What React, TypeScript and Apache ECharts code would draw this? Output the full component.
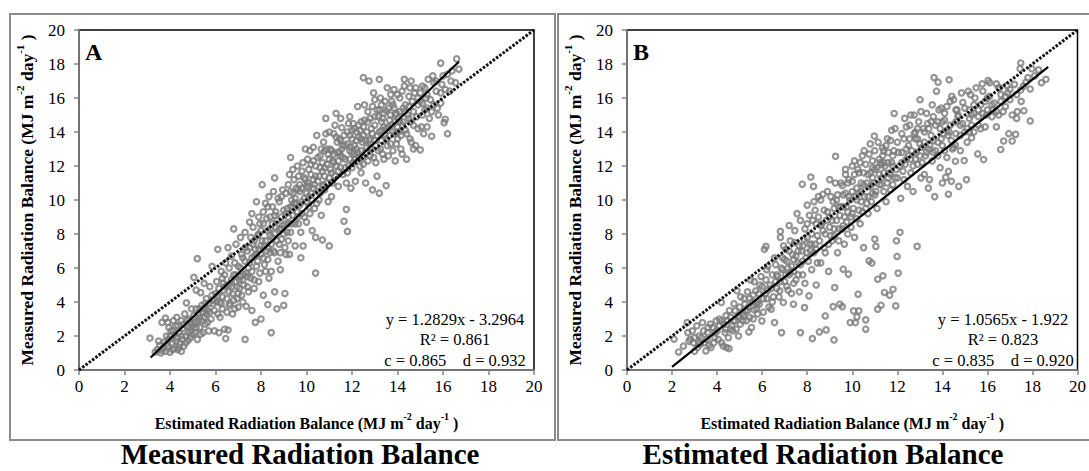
import React, { useEffect, useRef } from "react";
import * as echarts from "echarts";

// ---------- DATA ----------
const ticks = [0, 2, 4, 6, 8, 10, 12, 14, 16, 18, 20];

// Panel A: [estimated, measured]
const pointsA: number[][] = [
  [3.12,1.88],[3.35,1.05],[3.45,1.2],[3.55,1.45],[3.6,1.0],[3.65,2.8],[3.7,1.3],[3.75,1.65],[3.8,1.1],[3.85,2.0],[3.9,2.8],[3.9,1.4],[3.95,1.8],[4.0,1.05],[4.05,2.3],[4.1,1.6],[4.15,2.9],[4.2,1.25],[4.25,2.6],[4.3,3.1],[4.3,1.9],[4.35,1.2],[4.4,2.2],[4.45,1.55],[4.5,2.9],[4.5,1.1],[4.55,2.45],[3.8,3.05],[3.95,2.5],[4.2,2.1],
  [4.6,1.4],[4.65,3.3],[4.7,2.0],[4.72,3.95],[4.75,2.6],[4.8,1.75],[4.85,3.0],[4.9,2.3],[4.95,3.6],[5.0,2.1],[5.05,5.45],[5.1,2.8],[5.15,4.7],[5.2,1.8],[5.2,6.55],[5.25,3.3],[5.3,2.5],[5.35,4.55],[5.4,3.8],[5.45,2.2],[5.5,3.1],[5.5,5.1],[5.55,2.7],[5.6,4.2],[5.65,3.5],[5.7,2.3],[5.75,4.9],[5.8,3.0],[5.85,6.1],[5.9,3.9],[5.95,2.3],[6.0,4.5],[5.3,3.6],[5.6,3.3],[5.05,3.2],[4.85,2.5],[5.4,2.9],
  [6.05,5.2],[6.1,7.1],[6.1,3.3],[6.15,2.2],[6.2,4.0],[6.25,5.8],[6.3,3.6],[6.35,4.7],[6.4,2.4],[6.45,1.85],[6.45,6.3],[6.5,4.2],[6.55,7.2],[6.55,2.35],[6.6,5.0],[6.65,3.9],[6.7,6.7],[6.75,4.5],[6.8,5.6],[6.8,8.3],[6.85,3.6],[6.9,7.4],[6.95,4.9],[7.0,6.1],[7.0,3.7],[7.05,5.3],[7.1,7.8],[7.15,4.4],[7.2,6.6],[7.25,5.0],[7.3,1.8],[7.3,8.1],[7.35,3.75],[7.35,5.7],[7.4,7.0],[7.45,4.6],[7.5,6.3],[7.5,8.7],[6.3,5.4],[6.6,6.0],[6.9,5.2],[7.2,4.0],[6.4,4.9],[7.1,6.0],
  [7.55,5.4],[7.6,9.2],[7.6,3.5],[7.65,7.4],[7.7,4.8],[7.75,2.8],[7.8,6.1],[7.8,9.9],[7.85,7.9],[7.9,5.2],[7.95,8.6],[8.0,3.0],[8.0,6.8],[8.05,10.9],[8.1,4.4],[8.1,9.3],[8.15,7.3],[8.2,5.8],[8.25,8.9],[8.3,3.85],[8.3,6.5],[8.35,10.2],[8.4,7.9],[8.45,2.2],[8.45,5.8],[8.5,9.6],[8.55,7.0],[8.6,11.3],[8.6,4.6],[8.65,8.4],[8.7,3.6],[8.75,6.4],[8.8,9.9],[8.85,5.9],[8.9,7.7],[8.95,10.6],[9.0,3.8],[9.05,4.5],[9.05,8.6],[9.1,6.8],[9.15,9.5],[9.2,10.9],[9.2,7.6],[7.7,6.7],[8.0,8.2],[8.3,9.6],[8.6,8.0],[8.9,9.0],[7.9,7.1],[8.4,6.9],
  [9.25,6.8],[9.3,12.5],[9.3,8.1],[9.35,10.0],[9.4,9.1],[9.45,11.2],[9.5,7.3],[9.55,9.8],[9.6,12.0],[9.65,8.6],[9.7,10.5],[9.75,6.6],[9.8,9.2],[9.8,11.7],[9.85,7.3],[9.9,10.1],[9.95,13.0],[10.0,8.7],[10.05,11.0],[10.1,9.6],[10.1,11.8],[10.15,12.9],[10.2,10.4],[10.25,8.2],[10.3,12.3],[10.35,9.5],[10.4,5.7],[10.4,7.8],[10.45,13.8],[10.5,11.1],[10.55,10.0],[10.6,12.6],[10.65,9.1],[10.7,7.65],[10.7,11.7],[10.75,13.4],[10.8,10.6],[10.85,14.8],[10.9,12.1],[10.95,9.9],[11.0,7.3],[11.0,11.3],[9.6,10.6],[10.0,10.4],[10.3,11.2],[9.4,10.4],[10.8,12.9],
  [11.05,13.0],[11.1,10.2],[11.15,12.3],[11.2,13.9],[11.25,11.4],[11.3,15.1],[11.35,12.8],[11.4,10.8],[11.45,13.6],[11.5,11.9],[11.55,14.25],[11.6,12.5],[11.65,8.75],[11.7,13.2],[11.75,9.45],[11.8,8.15],[11.8,11.6],[11.85,14.5],[11.9,12.9],[11.95,10.7],[12.0,13.6],[12.05,12.2],[12.1,14.2],[12.15,11.1],[12.2,13.0],[12.25,15.5],[12.3,12.5],[12.35,14.1],[12.4,11.6],[12.45,13.4],[12.5,17.2],[12.5,12.1],[12.55,14.7],[12.6,11.0],[12.65,13.1],[12.7,15.2],[12.75,17.0],[12.8,12.6],[12.85,14.2],[12.9,10.6],[12.95,16.3],[13.0,15.9],[13.0,13.5],[13.05,12.2],[13.1,11.4],[13.15,14.9],[13.2,17.1],[13.2,10.4],[13.25,13.0],[13.3,15.6],[13.35,12.7],[13.4,14.3],[13.45,13.8],[13.5,10.85],[13.5,15.25],[11.5,12.6],[12.0,12.8],[12.4,12.9],[12.8,13.6],[13.3,14.6],[11.9,13.8],
  [13.55,16.6],[13.6,12.6],[13.65,14.7],[13.7,13.3],[13.75,15.8],[13.8,14.0],[13.85,16.5],[13.9,12.3],[13.95,15.1],[14.0,13.6],[14.05,14.8],[14.1,16.0],[14.15,13.0],[14.2,12.7],[14.25,15.4],[14.3,17.1],[14.3,16.7],[14.35,14.1],[14.4,12.4],[14.45,15.0],[14.5,16.1],[14.55,13.6],[14.6,14.6],[14.65,15.8],[14.7,13.0],[14.75,16.3],[14.8,13.2],[14.8,16.6],[14.85,14.9],[14.9,15.6],[15.0,12.95],[15.05,14.3],[15.1,16.7],[15.15,13.9],[15.2,15.3],[15.25,16.0],[15.35,17.1],[15.4,14.8],[15.5,13.75],[15.55,17.3],[15.6,15.6],[15.7,16.4],[15.8,15.0],[15.9,18.05],[15.95,16.8],[16.05,14.55],[16.1,14.75],[16.2,17.4],[16.2,13.9],[16.35,17.0],[16.55,16.9],[16.6,18.3],[16.7,17.7],[15.3,15.4],[14.2,14.4],[13.9,13.9],[15.0,15.8],[14.6,17.0]
];
const pointsA2: number[][] = [
  [3.5,1.7],[3.65,1.15],[3.85,1.55],[4.0,2.0],[4.1,1.2],[4.25,1.7],[4.4,1.35],[4.5,2.0],[4.6,2.7],[4.7,1.6],[4.8,2.2],[4.9,1.9],[5.0,2.6],[5.1,2.2],[5.15,3.6],[5.25,2.9],[5.35,2.1],[5.45,3.4],[5.55,3.9],[5.65,2.8],[5.75,3.4],[5.85,4.4],[5.95,3.5],[6.05,4.0],[6.15,4.8],[6.2,3.1],[6.3,4.3],[6.4,5.6],[6.5,3.4],[6.6,4.6],[6.7,5.3],[6.75,3.3],[6.85,6.3],[6.95,4.2],[7.05,4.8],[7.15,6.8],[7.25,5.6],[7.3,7.2],[7.4,4.9],[7.45,6.0],[7.55,7.8],[7.6,5.8],[7.65,8.4],[7.7,5.3],[7.75,7.1],[7.85,6.4],[7.9,9.0],[7.95,5.7],[8.05,7.6],[8.1,8.6],[8.15,6.2],[8.2,9.8],[8.25,7.0],[8.3,8.2],[8.35,5.4],[8.4,9.0],[8.45,7.4],[8.5,8.6],[8.55,10.5],[8.6,6.9],[8.65,9.3],[8.7,7.6],[8.75,10.1],[8.8,8.3],[8.85,6.9],[8.9,10.2],[8.95,8.5],[9.0,9.4],[9.05,7.2],[9.1,10.4],[9.15,8.1],[9.2,9.0],[9.25,11.5],[9.3,9.6],[9.35,8.6],[9.4,11.8],[9.45,9.8],[9.5,8.6],[9.55,10.7],[9.6,9.3],[9.65,11.4],[9.7,9.7],[9.75,8.1],[9.8,10.7],[9.85,12.2],[9.9,9.0],[9.95,11.2],[10.0,9.9],[10.05,12.4],[10.1,10.8],[10.15,9.2],[10.2,11.5],[10.25,10.0],[10.3,13.1],[10.35,10.9],[10.4,12.0],[10.45,9.8],[10.5,12.5],[10.55,11.4],[10.6,10.4],[10.65,13.0],[10.7,12.2],[10.75,10.9],[10.8,11.9],[10.85,13.9],[10.9,11.0],[10.95,12.7],[11.0,14.0],[11.05,11.8],[11.1,12.9],[11.15,11.0],[11.2,12.2],[11.25,14.4],[11.3,12.0],[11.35,13.4],[11.4,11.7],[11.45,12.8],[11.5,14.8],[11.55,13.0],[11.6,11.5],[11.65,13.8],[11.7,12.4],[11.75,11.0],[11.8,13.3],[11.85,12.0],[11.9,14.9],[11.95,13.1],[12.0,11.9],[12.05,14.5],[12.1,13.2],[12.15,12.4],[12.2,14.0],[12.25,12.8],[12.3,13.7],[12.35,12.0],[12.4,14.6],[12.45,12.5],[12.5,13.8],[12.55,15.6],[12.6,12.8],[12.65,14.0],[12.7,12.3],[12.75,13.5],[12.8,14.8],[12.85,13.0],[12.9,15.5],[12.95,12.5],[13.0,14.4],[13.05,13.2],[13.1,15.3],[13.15,12.9],[13.2,14.0],[13.25,16.0],[13.3,13.5],[13.35,14.8],[13.4,12.4],[13.45,15.8],[13.5,14.2],[13.55,13.2],[13.6,15.4],[13.65,13.8],[13.7,16.2],[13.75,14.4],[13.8,12.9],[13.85,15.4],[13.9,14.6],[13.95,13.3],[14.0,16.2],[14.05,14.0],[14.1,15.2],[14.15,13.8],[14.2,16.4],[14.25,14.6],[14.35,15.6],[14.4,13.9],[14.5,14.8],[14.55,16.6],[14.6,13.4],[14.7,15.2],[14.9,14.2],[15.0,16.3],[15.1,15.0],[15.2,16.6],[15.3,14.3],[15.45,15.9],[15.6,16.9],[15.75,15.4],[15.9,16.3],[16.0,17.3],[16.3,16.4],[16.4,17.6]
];
const pointsA3: number[][] = [
  [4.15,2.3],[4.35,2.6],[4.55,1.8],[4.75,2.95],[4.95,2.75],[5.15,2.5],[5.3,3.1],[5.5,3.6],[5.7,3.9],[5.9,4.1],
  [6.1,4.4],[6.25,3.9],[6.35,5.1],[6.5,5.0],[6.6,3.8],[6.7,4.9],[6.8,4.1],[6.9,5.6],[7.0,4.5],[7.1,5.5],[7.2,5.3],[7.3,6.4],[7.4,5.5],[7.5,7.2],[7.6,6.6],[7.7,7.6],[7.8,6.8],[7.9,8.0],[8.0,7.3],[8.1,6.6],
  [8.2,7.6],[8.3,7.2],[8.4,8.3],[8.5,7.8],[8.6,9.1],[8.7,8.8],[8.8,7.4],[8.9,8.3],[9.0,8.0],[9.1,9.2],[9.2,8.6],[9.3,10.5],[9.4,9.6],[9.5,10.1],[9.6,9.0],[9.7,10.9],[9.8,9.9],[9.9,11.3],[10.0,10.8],[10.1,10.2],
  [10.2,12.1],[10.3,10.7],[10.4,11.4],[10.5,10.5],[10.6,11.9],[10.7,10.8],[10.8,11.4],[10.9,13.0],[11.0,12.4],[11.1,11.6],[11.2,12.7],[11.3,13.7],[11.4,12.3],[11.5,13.5],[11.6,13.2],[11.7,11.9],[11.8,14.0],[11.9,12.4],[12.0,14.1],[12.1,12.7],
  [12.2,13.5],[12.3,14.4],[12.4,13.6],[12.5,14.3],[12.6,13.5],[12.7,14.6],[12.8,13.1],[12.9,13.9],[13.0,14.9],[13.1,13.8],[13.2,15.3],[13.3,14.1],[13.4,15.1],[13.5,13.6],[13.6,14.3],[13.7,15.0],[13.8,15.6],[13.9,15.0],[14.0,14.3],[14.1,14.6],
  [14.3,15.2],[14.5,15.5],[14.7,14.4],[14.9,16.0],[15.1,15.7],[15.3,16.2],[15.5,15.2],[15.7,17.0],[15.9,15.7],[16.1,16.5]
];

// Panel B: [estimated, measured]
const pointsB: number[][] = [
  [2.09,1.81],[2.29,1.06],[2.67,2.79],[2.82,1.81],[2.9,2.3],[2.95,1.6],[3.13,1.32],[3.2,2.0],[3.35,2.79],[3.43,1.61],[3.5,1.12],[3.58,2.2],[3.65,1.45],[3.73,1.32],[3.8,2.5],[3.96,2.89],[4.05,1.8],[4.19,3.97],[4.27,1.41],[4.35,2.2],[4.42,1.32],[4.45,2.9],[4.53,1.26],[4.38,2.4],[4.1,2.6],[3.3,1.9],[3.0,1.1],[2.75,1.7],[4.2,1.6],[3.9,1.9],
  [4.6,3.1],[4.73,2.89],[4.8,3.48],[4.88,4.66],[4.95,2.0],[5.03,2.69],[5.1,3.3],[5.18,3.18],[5.23,3.87],[5.3,2.9],[5.41,2.24],[5.45,4.2],[5.49,5.3],[5.53,2.5],[5.6,3.0],[5.64,3.54],[5.72,4.66],[5.8,3.3],[5.87,3.87],[5.9,5.0],[5.99,2.89],[6.05,4.2],[6.1,7.1],[6.17,7.27],[6.17,5.3],[6.25,4.7],[6.3,3.7],[6.4,3.58],[6.45,5.6],[6.5,4.3],[4.7,2.3],[5.0,3.7],[5.35,3.5],[5.75,3.9],[6.2,5.9],
  [6.55,2.79],[6.6,6.2],[6.65,4.8],[6.7,5.5],[6.78,4.66],[6.81,8.16],[6.81,7.8],[6.86,2.2],[6.9,6.6],[6.94,3.97],[7.0,5.2],[7.05,7.1],[7.09,4.93],[7.15,6.0],[7.2,8.5],[7.24,5.74],[7.3,4.5],[7.35,6.8],[7.39,3.87],[7.45,7.5],[7.5,5.3],[7.55,9.2],[7.6,6.3],[7.65,4.6],[7.7,2.2],[7.75,7.0],[7.78,10.93],[7.8,5.6],[7.88,3.67],[7.9,8.3],[7.95,6.6],[8.0,9.7],[8.08,4.36],[8.1,7.4],[8.16,11.35],[8.2,5.9],[8.23,1.85],[8.25,8.8],[8.28,10.8],[8.3,6.9],[8.35,9.4],[8.4,5.0],[8.45,7.9],[8.5,10.2],[6.9,5.9],[7.4,5.8],[7.7,6.2],[8.0,7.8],[7.2,7.0],
  [8.54,2.24],[8.6,6.3],[8.65,8.6],[8.7,10.34],[8.75,7.2],[8.8,3.18],[8.84,2.36],[8.9,9.3],[8.95,5.8],[9.0,11.2],[9.05,7.9],[9.1,8.8],[9.15,3.73],[9.19,1.77],[9.22,4.85],[9.26,12.57],[9.3,10.0],[9.35,6.9],[9.4,8.3],[9.45,3.87],[9.5,9.6],[9.56,10.85],[9.56,3.73],[9.6,5.93],[9.65,7.4],[9.7,11.5],[9.75,8.7],[9.83,5.64],[9.85,10.2],[9.91,2.79],[9.95,9.0],[10.0,12.0],[10.06,3.48],[10.1,7.8],[10.14,2.79],[10.2,10.7],[10.21,3.12],[10.26,4.46],[10.29,3.48],[10.3,11.6],[10.35,8.6],[10.4,9.9],[10.45,12.6],[10.5,7.2],[9.2,9.5],[9.6,8.5],[10.0,10.5],[9.8,11.0],[10.3,9.4],
  [10.53,12.9],[10.6,2.95],[10.6,2.4],[10.65,11.0],[10.7,9.2],[10.75,6.42],[10.8,13.3],[10.87,6.29],[10.9,10.4],[10.98,13.76],[11.0,11.8],[11.05,7.27],[11.0,7.7],[11.1,9.5],[11.13,5.34],[11.13,3.58],[11.2,12.4],[11.28,3.81],[11.3,10.9],[11.34,13.07],[11.36,5.54],[11.4,11.6],[11.43,4.56],[11.5,9.9],[11.56,13.6],[11.6,12.2],[11.66,4.4],[11.7,10.6],[11.75,14.1],[11.81,4.75],[11.86,15.09],[11.9,11.3],[11.93,3.77],[11.96,7.6],[11.99,6.68],[12.04,5.7],[12.05,12.8],[12.12,8.1],[12.15,10.1],[12.2,13.9],[12.25,11.7],[12.33,14.8],[12.4,12.4],[12.45,10.8],[12.5,13.2],[10.9,11.3],[11.4,12.9],[11.8,12.0],[12.3,11.2],[10.7,10.2],
  [12.55,14.4],[12.6,11.6],[12.65,12.9],[12.7,10.5],[12.75,15.0],[12.8,13.6],[12.88,7.27],[12.9,12.1],[12.95,14.6],[13.01,15.9],[13.05,11.3],[13.1,13.1],[13.15,14.2],[13.2,11.5],[13.25,12.6],[13.3,15.1],[13.38,10.7],[13.43,11.2],[13.5,13.8],[13.55,12.3],[13.6,14.9],[13.63,17.2],[13.66,10.2],[13.7,12.9],[13.74,16.4],[13.8,13.4],[13.81,16.93],[13.9,11.9],[13.95,15.4],[14.0,11.0],[14.05,13.9],[14.1,14.7],[14.15,11.33],[14.2,12.5],[14.27,10.34],[14.27,11.68],[14.3,17.07],[14.35,15.8],[14.4,11.1],[14.42,16.1],[14.5,13.1],[14.58,12.28],[14.58,13.23],[14.6,14.6],[14.65,15.3],[14.73,10.8],[14.8,13.8],[14.85,16.3],[14.91,15.74],[14.97,12.32],[13.4,13.0],[13.9,14.2],[14.3,14.0],[12.8,12.4],[14.7,14.9],
  [15.07,11.2],[15.1,14.2],[15.2,14.0],[15.25,16.2],[15.3,13.66],[15.3,14.4],[15.4,15.1],[15.5,16.6],[15.57,12.71],[15.6,14.9],[15.7,15.6],[15.77,16.83],[15.83,12.38],[15.9,14.3],[16.0,15.3],[16.03,17.03],[16.1,16.1],[16.2,14.9],[16.3,15.7],[16.4,16.83],[16.5,15.0],[16.59,12.97],[16.6,16.2],[16.72,13.47],[16.8,15.5],[16.87,16.73],[16.95,13.9],[17.0,15.9],[17.1,13.47],[17.25,13.86],[17.3,14.8],[17.33,15.2],[17.45,17.72],[17.48,18.06],[17.48,16.47],[17.62,15.25],[17.71,16.93],[17.9,16.53],[17.9,14.65],[17.97,17.72],[18.27,17.66],[18.4,16.9],[18.6,17.1],[15.9,15.8],[16.5,16.6],[15.2,15.3]
];
const pointsB2: number[][] = [
  [2.5,1.4],[2.7,2.2],[3.0,1.9],[3.1,2.6],[3.25,1.5],[3.4,2.3],[3.55,1.8],[3.7,2.7],[3.85,1.6],[4.0,2.3],[4.1,3.0],[4.3,2.7],[4.5,1.9],[4.55,3.5],[4.65,2.6],[4.75,3.9],[4.85,2.4],[4.95,3.2],[5.05,4.3],[5.15,2.9],[5.25,3.5],[5.35,4.6],[5.45,3.1],[5.55,4.0],[5.65,5.2],[5.75,3.6],[5.85,4.5],[5.95,5.5],[6.05,3.4],[6.15,4.5],[6.25,6.1],[6.35,5.0],[6.45,4.0],[6.55,6.6],[6.65,5.6],[6.75,4.3],[6.85,6.0],[6.95,7.3],[7.05,5.6],[7.1,6.4],[7.15,4.7],[7.25,7.6],[7.3,6.1],[7.4,5.1],[7.45,8.2],[7.5,6.7],[7.6,5.6],[7.65,7.3],[7.7,8.8],[7.8,6.4],[7.85,7.7],[7.9,5.1],[8.0,8.6],[8.05,6.4],[8.1,9.1],[8.15,7.0],[8.2,8.0],[8.3,9.9],[8.35,7.4],[8.4,8.6],[8.45,6.3],[8.5,9.0],[8.55,7.6],[8.6,10.0],[8.7,8.2],[8.75,9.4],[8.8,6.9],[8.85,8.8],[8.9,10.5],[8.95,7.4],[9.0,9.0],[9.05,10.2],[9.1,7.6],[9.15,9.9],[9.2,8.3],[9.25,11.0],[9.3,8.8],[9.35,10.3],[9.4,7.6],[9.45,9.1],[9.5,11.0],[9.55,8.3],[9.6,10.3],[9.65,9.0],[9.7,11.8],[9.75,9.6],[9.8,8.0],[9.85,11.2],[9.9,10.0],[9.95,8.4],[10.0,11.1],[10.05,9.5],[10.1,12.3],[10.15,10.2],[10.2,8.9],[10.25,11.8],[10.3,10.4],[10.35,12.2],[10.4,11.0],[10.45,9.3],[10.5,11.6],[10.55,10.2],[10.6,12.1],[10.65,9.8],[10.7,11.5],[10.75,12.7],[10.8,10.8],[10.85,9.9],[10.9,12.3],[10.95,11.0],[11.0,12.9],[11.05,10.5],[11.1,11.9],[11.15,13.4],[11.2,10.9],[11.25,12.2],[11.3,11.3],[11.35,12.6],[11.4,10.5],[11.45,12.0],[11.5,13.2],[11.55,11.0],[11.6,12.8],[11.65,11.6],[11.7,13.5],[11.75,12.2],[11.8,10.9],[11.85,12.9],[11.9,14.2],[11.95,11.8],[12.0,13.4],[12.1,12.0],[12.2,12.8],[12.3,13.6],[12.35,12.1],[12.4,14.3],[12.5,12.6],[12.55,13.6],[12.6,15.0],[12.7,12.0],[12.75,13.9],[12.85,12.8],[12.9,14.2],[13.0,13.3],[13.05,15.2],[13.1,12.2],[13.2,14.0],[13.3,12.8],[13.35,14.5],[13.45,13.2],[13.55,15.6],[13.6,13.5],[13.7,14.4],[13.8,12.6],[13.85,15.3],[13.95,13.6],[14.0,14.6],[14.1,12.9],[14.2,15.5],[14.25,13.8],[14.35,14.4],[14.45,13.0],[14.5,15.9],[14.6,13.9],[14.7,15.0],[14.8,12.9],[14.9,14.5],[15.0,15.4],[15.1,13.4],[15.15,16.4],[15.3,15.0],[15.4,14.0],[15.45,16.0],[15.6,15.3],[15.7,14.2],[15.8,16.4],[15.95,15.0],[16.1,16.9],[16.25,15.3],[16.4,14.3],[16.55,16.6],[16.7,15.2],[16.9,16.3],[17.1,15.0],[17.2,16.8],[17.5,15.8],[17.8,17.2],[18.1,17.3]
];
const pointsB3: number[][] = [
  [3.2,1.6],[3.6,2.5],[3.9,2.2],[4.2,2.9],[4.4,3.2],[4.6,2.4],[4.8,2.9],[5.0,3.1],[5.2,4.2],[5.4,3.7],[5.6,4.4],[5.8,4.0],[6.0,4.9],
  [6.2,4.2],[6.4,4.8],[6.6,5.2],[6.8,5.2],[7.0,6.5],[7.2,5.6],[7.4,6.5],[7.6,7.0],[7.8,7.3],[8.0,6.9],[8.2,7.4],[8.4,7.1],[8.6,8.5],[8.8,8.0],[9.0,8.4],[9.2,7.9],[9.4,9.6],
  [9.6,9.6],[9.8,9.3],[10.0,9.2],[10.2,10.0],[10.4,10.5],[10.6,9.5],[10.8,11.6],[11.0,10.3],[11.2,11.5],[11.4,12.2],[11.6,11.3],[11.8,12.6],[12.0,11.3],[12.2,12.2],[9.7,10.4],[10.1,11.5],[10.5,10.9],[10.9,11.9],[11.3,12.1],[11.7,11.5],
  [12.4,13.0],[12.6,12.4],[12.8,14.0],[13.0,12.6],[13.2,13.4],[13.4,14.2],[13.6,12.8],[13.8,14.6],[14.0,13.2],[14.2,14.1],[14.4,13.5],[14.6,15.3],[14.8,14.4],[15.0,14.0],[12.9,13.6],[13.5,14.6],[14.1,15.1],
  [15.2,14.8],[15.4,15.6],[15.6,14.4],[15.8,15.1],[16.0,16.0],[16.2,15.6],[16.4,15.2],[16.6,15.8],[16.8,16.1],[17.0,16.5],[17.3,16.2],[17.6,16.7]
];

const oneToOne = [[0, 0], [20, 20]];
const fitA = [[3.15, 0.74], [16.7, 18.13]];
const fitB = [[2.0, 0.19], [18.7, 17.83]];

const statsA = ["y = 1.2829x - 3.2964", "R² = 0.861", "c = 0.865    d = 0.932"];
const statsB = ["y = 1.0565x - 1.922", "R² = 0.823", "c = 0.835    d = 0.920"];
const panelTitles = ["Measured Radiation Balance", "Estimated Radiation Balance"];
const panelLetters = ["A", "B"];

const SERIF = "'Liberation Serif', 'Times New Roman', serif";

export default function App() {
  const ref = useRef<HTMLDivElement>(null);
  useEffect(() => {
    document.body.style.margin = "0";
    const chart = echarts.init(ref.current!, null, { renderer: "svg" });

    const makeRich = (size: number) => ({
      b: { fontFamily: SERIF, fontWeight: "bold", fontSize: size, color: "#000", lineHeight: size + 4, verticalAlign: "bottom" },
      s: { fontFamily: SERIF, fontWeight: "bold", fontSize: Math.round(size * 0.62), color: "#000", lineHeight: size + 4, verticalAlign: "top" },
    });
    const xName = "{b|Estimated Radiation Balance (MJ m}{s|-2}{b| day}{s|-1}{b| )}";
    const yName = "{b|Measured Radiation Balance (MJ m}{s|-2}{b| day}{s|-1}{b| )}";

    const axisCommon = {
      type: "value",
      min: ticks[0],
      max: ticks[ticks.length - 1],
      interval: 2,
      splitLine: { show: false },
      axisLine: { show: true, lineStyle: { color: "#868686", width: 1.5 } },
      axisTick: { show: true, inside: false, length: 5, lineStyle: { color: "#868686", width: 1.5 } },
      nameLocation: "middle",
    };

    const xAxes = [0, 1].map((g) => ({
      ...axisCommon,
      gridIndex: g,
      name: xName,
      nameGap: 41,
      nameTextStyle: { rich: makeRich(16) },
      axisLabel: { fontFamily: SERIF, fontSize: 17, color: "#000", margin: 8 },
    }));
    const yAxes = [0, 1].map((g) => ({
      ...axisCommon,
      gridIndex: g,
      name: yName,
      nameGap: 43,
      nameTextStyle: { rich: makeRich(17.5) },
      axisLabel: { fontFamily: SERIF, fontSize: 17, color: "#000", margin: 14 },
    }));

    const scatterStyle = {
      type: "scatter",
      symbol: "circle",
      symbolSize: 5.4,
      itemStyle: { color: "rgba(255,255,255,0)", borderColor: "#7a7a7a", borderWidth: 2.2 },
      z: 2,
    };
    const dotted = {
      type: "line",
      symbol: "none",
      lineStyle: { color: "#111", width: 3, type: [2.5, 1.6] },
      z: 4,
    };
    const solid = {
      type: "line",
      symbol: "none",
      lineStyle: { color: "#000", width: 2.2 },
      z: 5,
    };

    const statText = (lines: string[], cx: number) =>
      lines.map((t, i) => ({
        type: "text",
        x: cx,
        y: 319 + i * 20.5,
        style: { text: t, fontFamily: SERIF, fontSize: 16.5, fill: "#000", align: "center", verticalAlign: "middle" },
        z: 10,
      }));

    chart.setOption({
      animation: false,
      grid: [
        { left: 79, top: 30, width: 455, height: 340, show: true, borderColor: "#000", borderWidth: 1.5, backgroundColor: "transparent" },
        { left: 627, top: 30, width: 455, height: 340, show: true, borderColor: "#000", borderWidth: 1.5, backgroundColor: "transparent" },
      ],
      xAxis: xAxes,
      yAxis: yAxes,
      series: [
        { ...scatterStyle, xAxisIndex: 0, yAxisIndex: 0, data: pointsA.concat(pointsA2, pointsA3) },
        { ...dotted, xAxisIndex: 0, yAxisIndex: 0, data: oneToOne },
        { ...solid, xAxisIndex: 0, yAxisIndex: 0, data: fitA },
        { ...scatterStyle, xAxisIndex: 1, yAxisIndex: 1, data: pointsB.concat(pointsB2, pointsB3) },
        { ...dotted, xAxisIndex: 1, yAxisIndex: 1, data: oneToOne },
        { ...solid, xAxisIndex: 1, yAxisIndex: 1, data: fitB },
      ],
      graphic: [
        { type: "rect", shape: { x: 10, y: 14, width: 545, height: 426 }, style: { fill: "none", stroke: "#8c8c8c", lineWidth: 2 }, z: 0 },
        { type: "rect", shape: { x: 558, y: 14, width: 540, height: 426 }, style: { fill: "none", stroke: "#8c8c8c", lineWidth: 2 }, z: 0 },
        { type: "text", x: 85, y: 40, style: { text: panelLetters[0], fontFamily: SERIF, fontWeight: "bold", fontSize: 24, fill: "#000" }, z: 10 },
        { type: "text", x: 633, y: 40, style: { text: panelLetters[1], fontFamily: SERIF, fontWeight: "bold", fontSize: 24, fill: "#000" }, z: 10 },
        ...statText(statsA, 455),
        ...statText(statsB, 1003),
        { type: "text", x: 300, y: 454, style: { text: panelTitles[0], fontFamily: SERIF, fontWeight: "bold", fontSize: 29, fill: "#000", align: "center", verticalAlign: "middle" }, z: 10 },
        { type: "text", x: 823, y: 454, style: { text: panelTitles[1], fontFamily: SERIF, fontWeight: "bold", fontSize: 29, fill: "#000", align: "center", verticalAlign: "middle" }, z: 10 },
      ],
    });
    return () => chart.dispose();
  }, []);
  return <div ref={ref} style={{ width: 1089, height: 471 }} />;
}
